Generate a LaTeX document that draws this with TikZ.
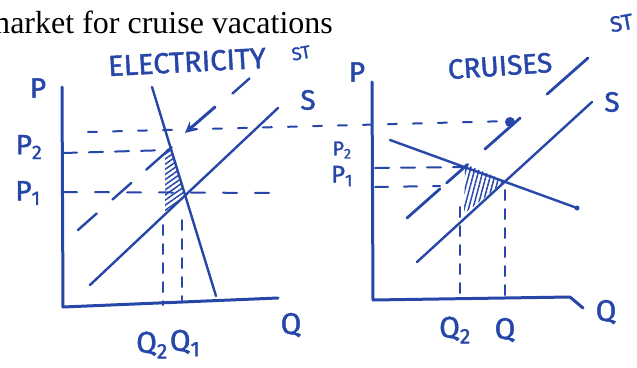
\documentclass[tikz,border=0pt]{standalone}
\usepackage{fontspec}
\setmainfont{Liberation Serif}
\newfontfamily\hand[FakeBold=1.5]{Fira Sans}
\usetikzlibrary{arrows.meta,patterns.meta}
\definecolor{ink}{RGB}{38,70,168}
\begin{document}
\begin{tikzpicture}[x=1pt,y=-1pt,
  inkline/.style={draw=ink, line width=2.4pt, line cap=round, line join=round},
  axisline/.style={draw=ink, line width=3pt, line cap=round, line join=round},
  dashline/.style={draw=ink, line width=2pt, line cap=round, dash pattern=on 11pt off 11pt},
  lab/.style={text=ink, font=\hand\fontsize{28}{28}\selectfont, inner sep=0pt},
  biglab/.style={text=ink, font=\hand\fontsize{30}{30}\selectfont, inner sep=0pt},
  hatchL/.style={pattern={Lines[angle=35,distance=4.2pt,line width=1.5pt]}, pattern color=ink},
  hatchR/.style={pattern={Lines[angle=75,distance=4.2pt,line width=1.5pt]}, pattern color=ink},
]
\useasboundingbox (0,0) rectangle (637,367);

% title
\node[anchor=base east, font=\fontsize{32}{32}\selectfont, inner sep=0pt] (title) at (333,33) {market for cruise vacations};

% ================= LEFT GRAPH =================
\coordinate (LYtop) at (62,87);
\coordinate (LO) at (63,307);
\coordinate (LXend) at (278,298);
\coordinate (LD1) at (152,87);
\coordinate (LD2) at (216,296);
\coordinate (LS1) at (90,285);
\coordinate (LS2) at (278,108);
\coordinate (LT1) at (78,230);
\coordinate (LT2) at (250,78);

% hatched deadweight loss
\path[hatchL] (165,152) -- (171,149) -- (185,196) -- (165,213) -- cycle;

% dashed guides
\coordinate (TopA) at (88,132);
\coordinate (TopB) at (510,121);
\draw[dashline, dash pattern=on 9pt off 16pt] (TopA) -- (TopB);
\draw[dashline, dash pattern=on 14pt off 12pt] (63,153) -- (170,150);
\draw[dashline, dash pattern=on 14pt off 18pt] (63,192) -- (280,193);
\draw[dashline, dash pattern=on 10pt off 9pt] (163,225) -- (163,305);
\draw[dashline, dash pattern=on 10pt off 9pt] (182,220) -- (182,300);

% axes
\draw[axisline] (LYtop) -- (LO) -- (LXend);
% demand
\draw[inkline] (LD1) -- (LD2);
% supply
\draw[inkline] (LS1) -- (LS2);
% supply with tax
\draw[inkline, dash pattern=on 25pt off 21pt on 25pt off 20pt on 34pt off 81pt on 23pt off 10pt] (LT1) -- (LT2);
% arrow
\coordinate (ArA) at (215,107);
\coordinate (ArB) at (185,133);
\draw[inkline, line width=3pt, -{Stealth[length=11pt,width=11pt]}] (ArA) -- (ArB);

% labels left
\node[lab, rotate=3, font=\hand\fontsize{29}{29}\selectfont] (elec) at (187,62) {ELECTRICITY};
\node[lab, font=\hand\fontsize{18}{18}\selectfont, rotate=10] (lst) at (301,53) {ST};
\node[lab] (ls) at (308,100) {S};
\node[lab] (lp) at (38,88) {P};
\node[lab] (lp2) at (29,147) {P\textsubscript{2}};
\node[lab] (lp1) at (28,193) {P\textsubscript{1}};
\node[biglab] (lq2) at (152,345) {Q\textsubscript{2}};
\node[biglab] (lq1) at (185,343) {Q\textsubscript{1}};
\node[biglab] (lq) at (291,325) {Q};

% ================= RIGHT GRAPH =================
\coordinate (RYtop) at (372,82);
\coordinate (RO) at (373,300);
\coordinate (RXend) at (570,297);
\coordinate (RXhook) at (583,308);
\coordinate (RD1) at (390,140);
\coordinate (RD2) at (577,208);
\coordinate (RS1) at (417,262);
\coordinate (RS2) at (592,102);
\coordinate (RT1) at (407,218);
\coordinate (RT2) at (588,58);

\path[hatchR] (465,168) -- (470,166) -- (505,181) -- (464,214) -- cycle;

\draw[dashline, dash pattern=on 14pt off 12pt] (375,168) -- (468,167);
\draw[dashline, dash pattern=on 13pt off 16pt] (375,187) -- (440,186);
\draw[dashline, dash pattern=on 10pt off 9pt] (460,207) -- (460,300);
\draw[dashline, dash pattern=on 10pt off 9pt] (505,190) -- (505,300);

\draw[axisline] (RYtop) -- (RO) -- (RXend) -- (RXhook);
\draw[inkline] (RD1) -- (RD2);
\fill[ink] (RD2) circle (2.5pt);
\draw[inkline] (RS1) -- (RS2);
\draw[inkline, line width=2.8pt, dash pattern=on 44pt off 9pt on 28pt off 23pt on 47pt off 36pt on 55pt off 10pt] (RT1) -- (RT2);
\coordinate (Rdot) at (510,122);
\fill[ink] (Rdot) circle (5pt);

\node[lab, rotate=4] (cru) at (500,66) {CRUISES};
\node[lab, font=\hand\fontsize{22}{22}\selectfont, rotate=10, anchor=west] (rst) at (610,25) {ST};
\node[lab] (rs) at (612,102) {S};
\node[lab] (rp) at (357,72) {P};
\node[lab, font=\hand\fontsize{20}{20}\selectfont] (rp2) at (342,150) {P\textsubscript{2}};
\node[lab, font=\hand\fontsize{24}{24}\selectfont] (rp1) at (342,176) {P\textsubscript{1}};
\node[biglab] (rq2) at (455,330) {Q\textsubscript{2}};
\node[biglab] (rq) at (505,330) {Q};
\node[biglab] (rqa) at (606,312) {Q};
\end{tikzpicture}
\end{document}
